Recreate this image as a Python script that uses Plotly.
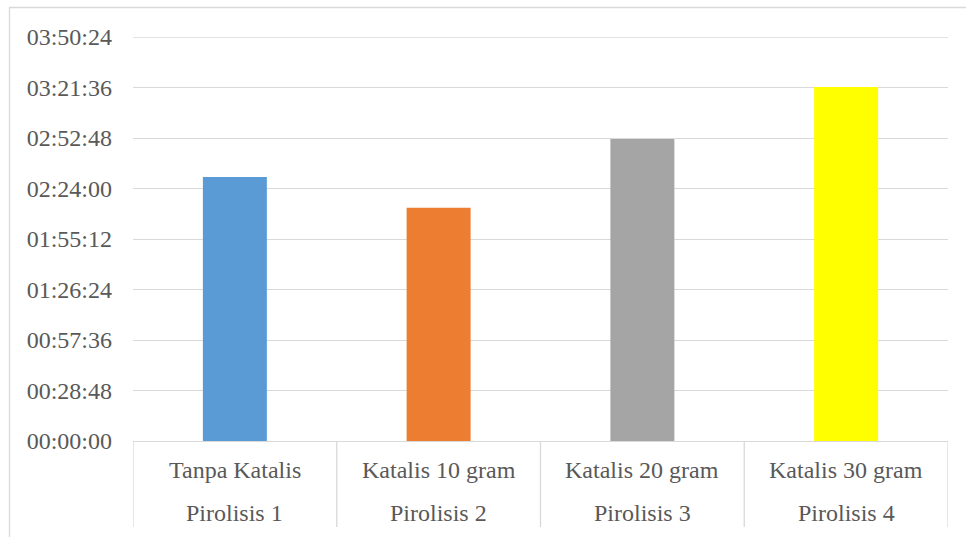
import plotly.graph_objects as go

# Pyrolysis duration per run (seconds)
treatments = ["Tanpa Katalis", "Katalis 10 gram", "Katalis 20 gram", "Katalis 30 gram"]
runs = ["Pirolisis 1", "Pirolisis 2", "Pirolisis 3", "Pirolisis 4"]
durations_s = [9030, 7980, 10330, 12110]
bar_colors = ["#5B9BD5", "#ED7D31", "#A5A5A5", "#FFFF00"]

# y axis ticks every 28:48
tick_seconds = [i * 1728 for i in range(9)]


def hms(s):
    return f"{s // 3600:02d}:{(s % 3600) // 60:02d}:{s % 60:02d}"


tick_text = [hms(s) for s in tick_seconds]

FONT = "Times New Roman, Liberation Serif, serif"
FS = 24
TXT = "#595959"
GRID = "#D9D9D9"

W, H = 966, 537
ML, MR, MT, MB = 133, 18, 37, 96
PW, PH = W - ML - MR, H - MT - MB

x_idx = list(range(len(treatments)))

fig = go.Figure(
    go.Bar(
        x=x_idx,
        y=durations_s,
        marker=dict(color=bar_colors, line=dict(width=0)),
        width=0.314,
        hoverinfo="skip",
    )
)

shapes = []
# vertical dividers between category labels
for b in [i - 0.5 for i in range(len(treatments) + 1)]:
    shapes.append(dict(type="line", xref="x", yref="paper", x0=b, x1=b,
                       y0=0, y1=-(527 - 441) / PH,
                       line=dict(color=GRID, width=1.3)))
# top gridline
shapes.append(dict(type="line", xref="paper", yref="y", x0=0, x1=1,
                   y0=tick_seconds[-1], y1=tick_seconds[-1],
                   line=dict(color=GRID, width=1.3), layer="below"))
# chart frame
shapes.append(dict(type="rect", xref="paper", yref="paper",
                   x0=(9.5 - ML) / PW, x1=(975 - ML) / PW,
                   y0=(441 - 7.5) / PH, y1=-(550 - 441) / PH,
                   line=dict(color=GRID, width=1.3), layer="below"))

annotations = []
for i, (t, r) in enumerate(zip(treatments, runs)):
    annotations.append(dict(x=i, y=0, xref="x", yref="paper", text=t,
                            showarrow=False, yanchor="middle", yshift=-29,
                            font=dict(family=FONT, size=FS, color=TXT)))
    annotations.append(dict(x=i, y=0, xref="x", yref="paper", text=r,
                            showarrow=False, yanchor="middle", yshift=-72,
                            font=dict(family=FONT, size=FS, color=TXT)))

fig.update_layout(
    width=W, height=H,
    margin=dict(l=ML, r=MR, t=MT, b=MB, pad=0),
    paper_bgcolor="white", plot_bgcolor="white",
    showlegend=False,
    font=dict(family=FONT, color=TXT),
    shapes=shapes,
    annotations=annotations,
    xaxis=dict(range=[-0.5, len(treatments) - 0.5], showticklabels=False,
               showgrid=False, zeroline=False, showline=True,
               linecolor=GRID, linewidth=1.3, ticks="", fixedrange=True),
    yaxis=dict(range=[0, tick_seconds[-1]], tickvals=tick_seconds,
               ticktext=tick_text, showgrid=True, gridcolor=GRID,
               gridwidth=1.3, zeroline=False, showline=False, ticks="",
               ticklabelstandoff=20,
               tickfont=dict(family=FONT, size=FS, color=TXT),
               fixedrange=True),
)

fig.write_html("out.html", config={"displayModeBar": False})
